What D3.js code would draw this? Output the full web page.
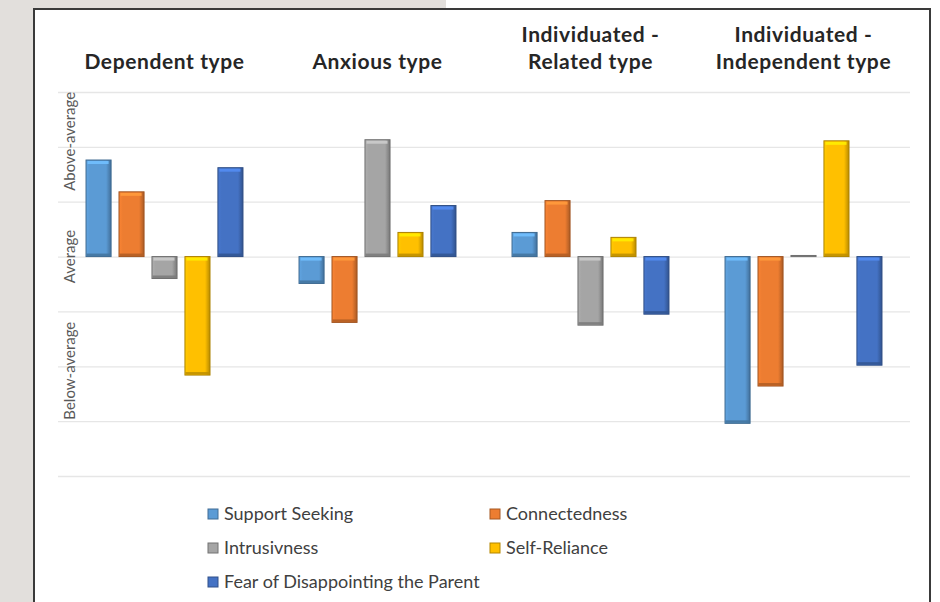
<!DOCTYPE html>
<html>
<head>
<meta charset="utf-8">
<script src="https://cdn.jsdelivr.net/npm/d3@7"></script>
<style>
  html, body { margin: 0; padding: 0; background: #ffffff; }
  svg { display: block; }
  text { font-family: Lato, "Open Sans", sans-serif; }
</style>
</head>
<body>
<svg id="chart" width="940" height="602"></svg>
<script>
// ---------- DATA ----------
const groups = ["Dependent type", "Anxious type", "Individuated - Related type", "Individuated - Independent type"];
const groupTitleLines = [["Dependent type"], ["Anxious type"], ["Individuated -", "Related type"], ["Individuated -", "Independent type"]];
const seriesNames = ["Support Seeking", "Connectedness", "Intrusivness", "Self-Reliance", "Fear of Disappointing the Parent"];
const supportSeeking = [1.76, -0.49, 0.44, -3.04];
const connectedness  = [1.18, -1.20, 1.02, -2.36];
const intrusivness   = [-0.40, 2.13, -1.25, 0.02];
const selfReliance   = [-2.16, 0.44, 0.35, 2.11];
const fearOfDisappointing = [1.62, 0.93, -1.05, -1.98];
const seriesValues = [supportSeeking, connectedness, intrusivness, selfReliance, fearOfDisappointing];
const yLabels = [{text: "Above-average", at: 2.1}, {text: "Average", at: 0}, {text: "Below-average", at: -2.08}];
const gridTicks = [-4, -3, -2, -1, 0, 1, 2, 3];

// ---------- STYLE ----------
const colors = ["#5B9BD5", "#ED7D31", "#A5A5A5", "#FFC000", "#4472C4"];
const svg = d3.select("#chart");
const W = 940, H = 602;

// page background: gray strips and bordered panel
svg.append("rect").attr("x", 0).attr("y", 0).attr("width", W).attr("height", H).attr("fill", "#ffffff");
svg.append("rect").attr("x", 0).attr("y", 0).attr("width", 34).attr("height", H).attr("fill", "#e2dfdc");
svg.append("rect").attr("x", 0).attr("y", 0).attr("width", 446).attr("height", 9).attr("fill", "#e2dfdc");
svg.append("rect").attr("x", 34).attr("y", 9).attr("width", 896).attr("height", H).attr("fill", "#ffffff")
  .attr("stroke", "#3a3a3a").attr("stroke-width", 2);

// gradients
const defs = svg.append("defs");
colors.forEach((c, i) => {
  const g = defs.append("linearGradient").attr("id", "grad" + i).attr("x1", "0").attr("x2", "1").attr("y1", "0").attr("y2", "0");
  const base = d3.color(c);
  g.append("stop").attr("offset", "0%").attr("stop-color", base.brighter(0.15));
  g.append("stop").attr("offset", "15%").attr("stop-color", c);
  g.append("stop").attr("offset", "80%").attr("stop-color", c);
  g.append("stop").attr("offset", "100%").attr("stop-color", base.darker(0.9));
});

// scales
const y = d3.scaleLinear().domain([-4, 3]).range([476, 92]);
const x0 = d3.scaleBand().domain(groups).range([58, 910]).paddingInner(0).paddingOuter(0);
const x1 = d3.scaleBand().domain(seriesNames).range([0, x0.bandwidth()]).paddingInner(0.24).paddingOuter(0.85);

// gridlines via axis
const gridAxis = d3.axisLeft(y).tickValues(gridTicks).tickSize(-(910 - 58)).tickFormat("");
const gridG = svg.append("g").attr("transform", "translate(58,0)").call(gridAxis);
gridG.select(".domain").remove();
gridG.selectAll(".tick line").attr("stroke", "#e6e6e6").attr("stroke-width", 1.3);

// y category labels
svg.selectAll(".ylab").data(yLabels).enter().append("text")
  .attr("class", "ylab")
  .attr("transform", d => `translate(75,${y(d.at)}) rotate(-90)`)
  .attr("text-anchor", "middle")
  .style("font-family", "Lato, 'Open Sans', sans-serif")
  .attr("font-size", 15)
  .attr("fill", "#595959")
  .text(d => d.text);

// group titles
const titleG = svg.selectAll(".gtitle").data(groups).enter().append("text")
  .attr("class", "gtitle")
  .attr("x", d => x0(d) + x0.bandwidth() / 2)
  .attr("text-anchor", "middle")
  .style("font-family", "Lato, 'Open Sans', sans-serif")
  .attr("font-weight", "bold")
  .attr("font-size", 21)
  .attr("letter-spacing", 0.6)
  .attr("fill", "#262626");
titleG.each(function(d, i) {
  const lines = groupTitleLines[i];
  const t = d3.select(this);
  lines.forEach((ln, j) => {
    t.append("tspan").attr("x", x0(d) + x0.bandwidth() / 2)
      .attr("y", 69 - (lines.length - 1 - j) * 27)
      .text(ln);
  });
});

// bars
const barData = [];
groups.forEach((g, gi) => {
  seriesNames.forEach((s, si) => {
    barData.push({group: g, series: s, si: si, value: seriesValues[si][gi]});
  });
});
const barG = svg.append("g");
const bars = barG.selectAll("g.bar").data(barData).enter().append("g").attr("class", "bar");
bars.each(function(d) {
  const gsel = d3.select(this);
  const bx = x0(d.group) + x1(d.series);
  const bw = x1.bandwidth();
  const y0 = y(0), yv = y(d.value);
  const top = Math.min(y0, yv), h = Math.max(Math.abs(y0 - yv), 1);
  const base = d3.color(colors[d.si]);
  gsel.append("rect").attr("x", bx).attr("y", top).attr("width", bw).attr("height", h)
    .attr("fill", `url(#grad${d.si})`)
    .attr("stroke", base.darker(1.1)).attr("stroke-width", 1);
  if (h > 8) {
    gsel.append("rect").attr("x", bx + 1.5).attr("y", top + 1).attr("width", bw - 4).attr("height", 3)
      .attr("fill", base.brighter(0.6)).attr("opacity", 0.9);
    gsel.append("rect").attr("x", bx + 0.5).attr("y", top + h - 3).attr("width", bw - 1).attr("height", 2.5)
      .attr("fill", base.darker(0.8)).attr("opacity", 0.9);
  }
});

// legend
const legendPos = [[208, 514], [490, 514], [208, 548], [490, 548], [208, 582]];
const leg = svg.selectAll(".leg").data(seriesNames).enter().append("g")
  .attr("class", "leg")
  .attr("transform", (d, i) => `translate(${legendPos[i][0]},${legendPos[i][1]})`);
leg.append("rect").attr("x", 0).attr("y", -5).attr("width", 10).attr("height", 10)
  .attr("fill", (d, i) => colors[i]).attr("stroke", (d, i) => d3.color(colors[i]).darker(1)).attr("stroke-width", 1);
leg.append("text").attr("x", 16).attr("y", 0).attr("dy", "0.35em")
  .style("font-family", "Lato, 'Open Sans', sans-serif")
  .attr("font-size", 18)
  .attr("fill", "#404040")
  .text(d => d);
</script>
</body>
</html>
